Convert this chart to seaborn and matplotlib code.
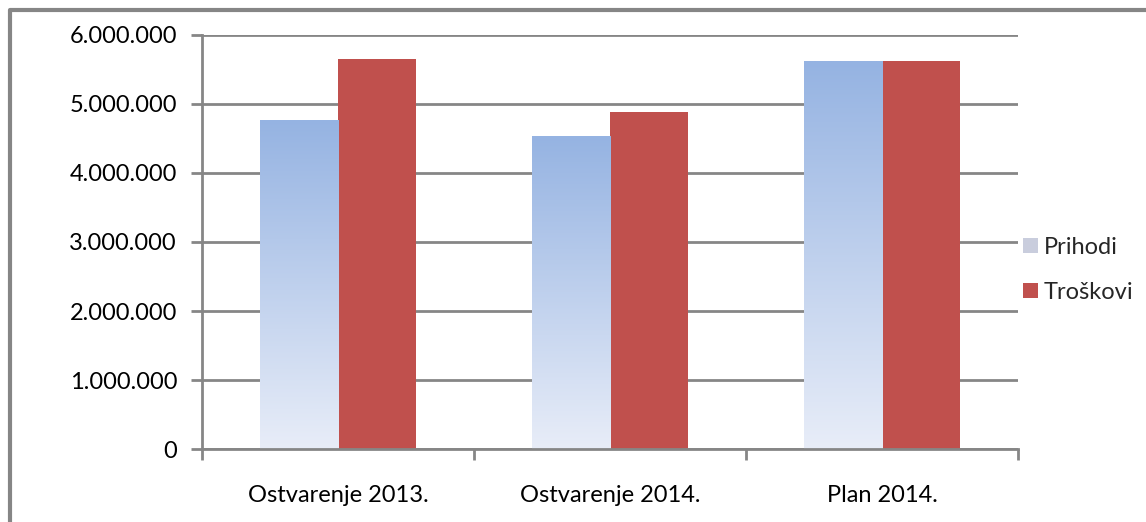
import numpy as np
import pandas as pd
import seaborn as sns
import matplotlib.pyplot as plt
from matplotlib.lines import Line2D
from matplotlib.patches import Patch
from matplotlib.colors import LinearSegmentedColormap
from matplotlib.ticker import FuncFormatter, FixedLocator

categories = ["Ostvarenje 2013.", "Ostvarenje 2014.", "Plan 2014."]
prihodi = [4770000, 4540000, 5620000]
troskovi = [5650000, 4880000, 5620000]
series = ["Prihodi", "Troškovi"]

df = pd.DataFrame({
    "kategorija": categories * 2,
    "serija": [series[0]] * 3 + [series[1]] * 3,
    "iznos": prihodi + troskovi,
})

sns.set_theme(style="white")
plt.rcParams["font.family"] = ["Lato", "DejaVu Sans"]

fig = plt.figure(figsize=(11.46, 5.22), dpi=100)
ax = fig.add_axes([0.1763, 0.1398, 0.712, 0.7932])

sns.barplot(data=df, x="kategorija", y="iznos", hue="serija",
            palette=["#95B3E2", "#C0504D"], width=0.574, ax=ax,
            saturation=1, legend=False, linewidth=0)

# gradient fill for Prihodi bars
blue = LinearSegmentedColormap.from_list("g", ["#E8EDF8", "#95B3E2"])
grad = np.linspace(0, 1, 256).reshape(-1, 1)
for p in ax.patches[:3]:
    x0, y0 = p.get_x(), p.get_y()
    w, h = p.get_width(), p.get_height()
    p.set_facecolor("none")
    im = ax.imshow(grad, cmap=blue, origin="lower", aspect="auto",
                   extent=[x0, x0 + w, y0, y0 + h], zorder=p.get_zorder())
    im.set_clip_path(p)
ax.set_xlim(-0.5, 2.5)
ax.set_ylim(0, 6000000)

ax.yaxis.grid(True, color="#868686", linewidth=2)
ax.set_axisbelow(True)
for s in ["top", "right"]:
    ax.spines[s].set_visible(False)
for s in ["left", "bottom"]:
    ax.spines[s].set_color("#868686")
    ax.spines[s].set_linewidth(2)

ax.yaxis.set_major_formatter(FuncFormatter(lambda v, _: f"{int(v):,}".replace(",", ".")))
ax.set_yticks(np.arange(0, 6000001, 1000000))
ax.tick_params(axis="y", length=8, width=2, color="#868686", direction="out",
               left=True, labelsize=17, pad=10, labelcolor="black")
ax.tick_params(axis="x", length=0, labelsize=17, pad=26, labelcolor="black")
ax.xaxis.set_minor_locator(FixedLocator([-0.5, 0.5, 1.5, 2.5]))
ax.tick_params(axis="x", which="minor", length=8, width=2, color="#868686",
               direction="out", bottom=True)
ax.set_xlabel("")
ax.set_ylabel("")

handles = [Patch(facecolor="#C9CDDD", edgecolor="none"),
           Patch(facecolor="#C0504D", edgecolor="none")]
fig.legend(handles, series, loc="center left", bbox_to_anchor=(0.893, 0.483),
           frameon=False, fontsize=17, handlelength=0.6, handleheight=0.6,
           handletextpad=0.25, labelspacing=1.0, borderpad=0, borderaxespad=0)

# outer chart frame
fig.add_artist(Line2D([10 / 1146, 10 / 1146, 1.0], [0.0, 1 - 10 / 522, 1 - 10 / 522],
                      color="#868686", linewidth=3, transform=fig.transFigure))

fig.savefig("out.png", dpi=100)
